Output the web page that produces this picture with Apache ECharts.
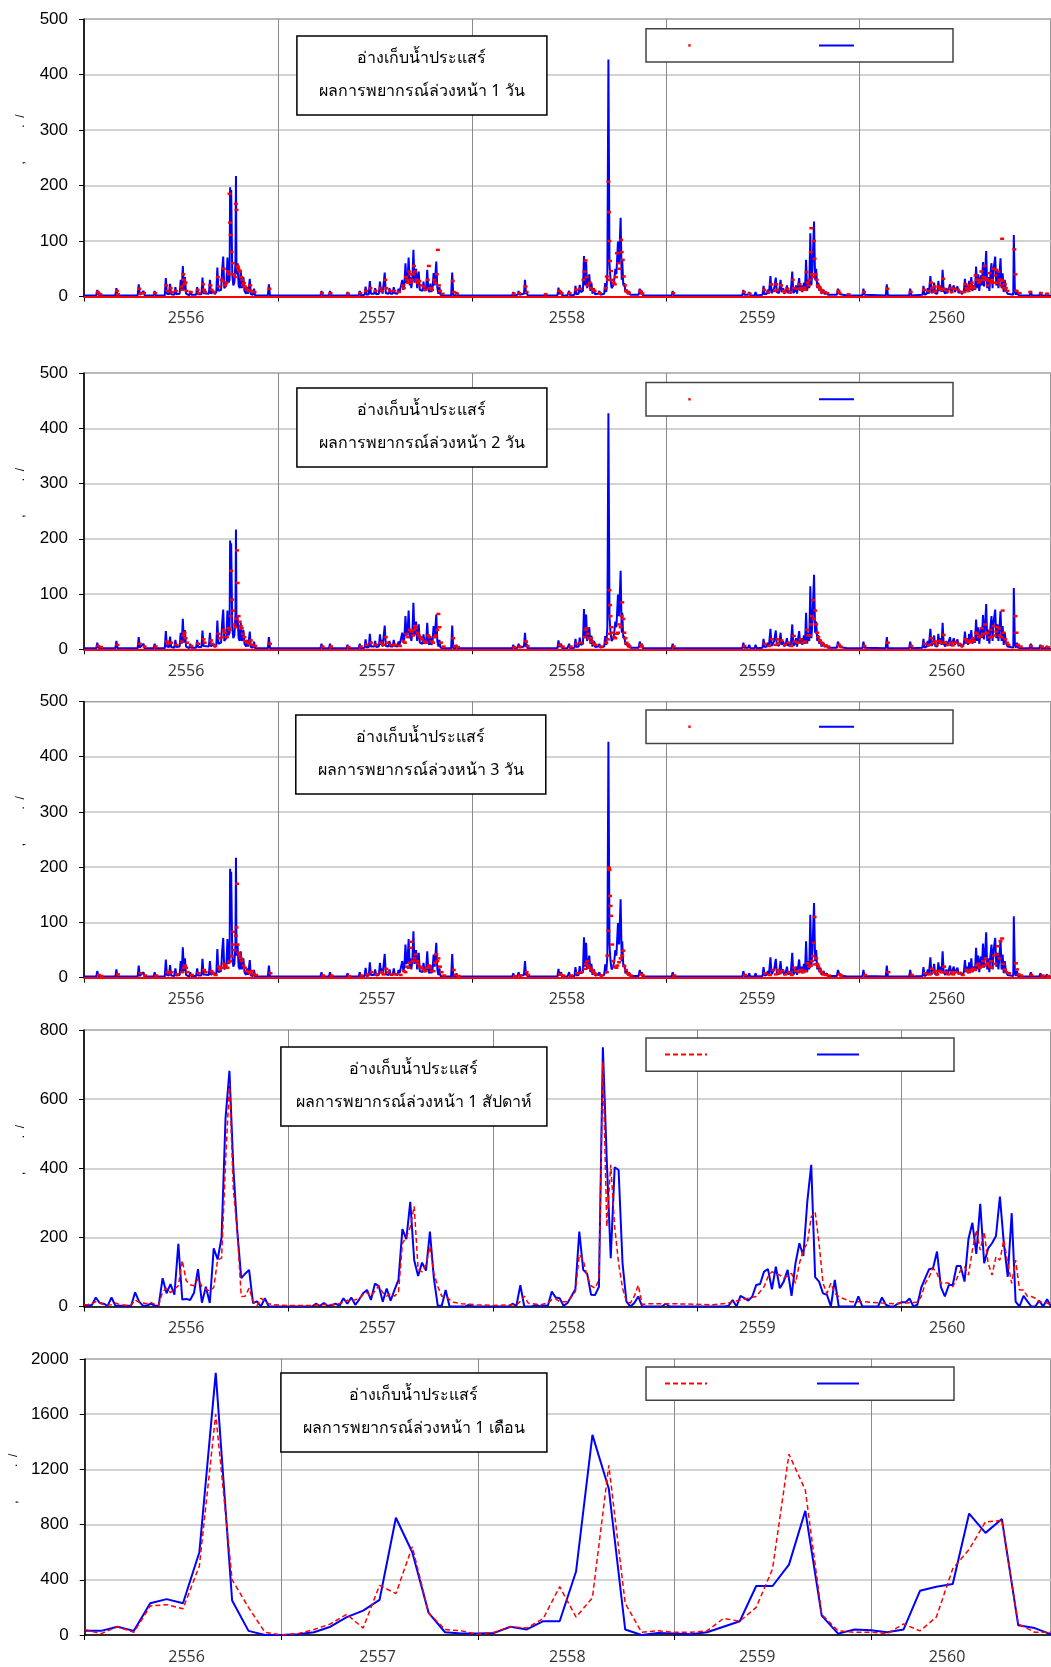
<!DOCTYPE html>
<html>
<head>
<meta charset="utf-8">
<script src="https://cdn.jsdelivr.net/npm/echarts@6/dist/echarts.min.js"></script>
<style>
html,body{margin:0;padding:0;background:#fff;}
#chart{width:1051px;height:1667px;}
</style>
</head>
<body>
<div id="chart"></div>
<script>
// ---------------- tick labels / texts ----------------
const yearLabels = ['2556', '2557', '2558', '2559', '2560'];
const reservoirName = 'อ่างเก็บน้ำประแสร์';
const panelTitles = [
  'ผลการพยากรณ์ล่วงหน้า 1 วัน',
  'ผลการพยากรณ์ล่วงหน้า 2 วัน',
  'ผลการพยากรณ์ล่วงหน้า 3 วัน',
  'ผลการพยากรณ์ล่วงหน้า 1 สัปดาห์',
  'ผลการพยากรณ์ล่วงหน้า 1 เดือน'
];
const yAxisTitle = '           ,          .  /';

// ---------------- daily observed inflow [day, value] ----------------
const obsDaily = [
[0,2],[23,2],[25,12],[27,3],[30,6],[33,2],[59,2],[61,15],[63,2],[101,2],[103,22],[105,3],[112,10],[114,2],[131,2],[133,10],[135,2],
[152,2],[154,33],[156,5],[160,4],[162,23],[164,4],[170,3],[172,17],[174,4],[180,5],[182,30],[184,10],[186,55],[188,12],[190,35],[192,5],
[198,2],[200,10],[202,3],[211,3],[213,17],[215,4],[221,4],[223,34],[225,6],[235,5],[237,30],[239,5],[244,10],[246,4],[249,8],[251,52],
[253,10],[258,12],[260,48],[262,72],[264,15],[268,20],[270,70],[272,25],[274,30],[275,197],[276,150],[277,192],[279,40],[281,20],[283,25],
[285,60],[286,217],[287,40],[289,60],[291,20],[293,15],[295,48],[297,15],[300,35],[302,10],[305,5],[307,17],[309,5],[312,32],[314,4],
[318,3],[320,14],[322,2],[346,2],[348,22],[350,2],
[445,2],[447,10],[449,2],[461,2],[463,10],[465,2],[494,2],[496,8],[498,2],[517,2],[519,10],[521,2],[528,3],[530,18],[532,3],[536,4],
[538,28],[540,5],[546,5],[548,15],[550,4],[555,5],[557,27],[559,8],[560,17],[562,5],[564,6],[566,43],[568,6],[573,5],[575,15],[577,5],
[581,5],[583,17],[585,6],[590,5],[592,14],[594,8],[597,10],[599,30],[601,12],[603,20],[605,60],[607,25],[609,30],[611,70],[613,20],
[614,35],[616,15],[618,30],[620,84],[622,25],[625,50],[627,15],[630,45],[632,12],[637,10],[639,27],[641,10],[644,15],[646,48],[648,12],
[650,8],[652,23],[654,8],[656,15],[658,42],[660,20],[663,63],[665,15],[667,5],[669,17],[671,3],[674,5],[676,2],[691,2],[693,43],[695,2],
[699,2],[701,8],[703,2],[734,2],[736,5],[738,2],
[806,2],[808,8],[810,2],[816,3],[818,10],[820,3],[828,5],[830,30],[832,4],[833,10],[835,2],[866,2],[868,5],[870,2],[891,2],[893,16],
[895,4],[898,10],[900,2],[910,2],[913,10],[915,2],[923,3],[925,19],[927,4],[931,5],[933,21],[935,8],[939,10],[941,73],[943,20],[945,63],
[947,15],[951,40],[953,10],[955,25],[957,5],[960,15],[962,4],[968,5],[970,10],[972,3],[979,5],[981,24],[983,8],[985,40],[987,427],
[989,60],[991,30],[993,15],[996,20],[998,30],[1000,50],[1002,40],[1005,99],[1007,60],[1010,142],[1012,30],[1013,66],[1015,20],[1017,24],
[1019,8],[1022,12],[1024,4],[1026,10],[1028,3],[1044,3],[1046,14],[1048,5],[1050,10],[1052,2],
[1106,2],[1108,10],[1110,2],[1216,2],[1218,5],[1220,2],[1239,2],[1241,12],[1243,3],[1250,3],[1252,8],[1254,2],[1262,2],[1264,8],[1266,2],
[1277,3],[1279,19],[1281,4],[1285,5],[1287,12],[1289,5],[1292,37],[1294,6],[1297,8],[1299,15],[1302,34],[1304,8],[1306,10],[1308,6],
[1311,30],[1313,8],[1316,15],[1318,5],[1321,10],[1323,20],[1325,6],[1328,10],[1330,5],[1333,45],[1335,6],[1338,10],[1340,20],[1342,5],
[1346,33],[1348,10],[1350,20],[1352,8],[1355,25],[1357,10],[1359,66],[1361,10],[1363,30],[1365,15],[1367,114],[1369,20],[1371,50],
[1374,135],[1376,30],[1378,50],[1380,15],[1382,25],[1384,10],[1386,18],[1388,5],[1392,12],[1394,4],[1398,8],[1400,3],[1417,3],[1419,14],
[1421,8],[1423,4],[1436,2],[1438,5],[1440,2],
[1465,2],[1467,14],[1469,3],[1509,2],[1511,22],[1513,2],[1553,2],[1555,14],[1557,2],[1578,3],[1580,19],[1582,3],[1586,5],[1588,15],
[1590,5],[1593,37],[1595,6],[1598,10],[1600,25],[1602,6],[1606,5],[1608,28],[1610,10],[1612,20],[1614,8],[1616,48],[1618,10],[1621,5],
[1623,15],[1625,6],[1628,5],[1630,22],[1632,6],[1635,4],[1637,20],[1639,8],[1642,5],[1644,18],[1646,6],[1650,10],[1652,4],[1656,10],
[1658,32],[1660,10],[1662,20],[1664,8],[1666,28],[1668,12],[1670,35],[1672,10],[1675,20],[1677,12],[1679,54],[1681,15],[1683,40],
[1685,10],[1688,38],[1690,20],[1692,62],[1694,18],[1696,45],[1698,82],[1700,15],[1702,35],[1704,10],[1706,40],[1708,60],[1710,15],
[1712,50],[1715,72],[1717,20],[1719,45],[1721,15],[1723,40],[1725,69],[1727,15],[1729,42],[1731,8],[1733,30],[1735,12],[1738,5],
[1749,3],[1750,111],[1752,10],[1754,3],[1756,12],[1758,3],[1762,2],[1764,5],[1766,2],[1780,2],[1782,10],[1784,2],[1798,2],[1800,8],
[1802,2],[1810,2],[1812,6],[1814,2],[1820,1]
];

// ---------------- 1-day-ahead forecast [day, value] ----------------
const fc1Daily = [
[26,8],[28,5],[31,4],[62,10],[64,4],[104,14],[106,5],[113,6],[134,6],[155,20],[157,10],[163,15],[165,8],[173,10],[183,18],[185,12],
[187,40],[188,30],[189,22],[191,25],[193,10],[201,8],[214,12],[216,6],[224,22],[226,12],[228,8],[238,20],[240,12],[245,8],[252,35],
[254,18],[259,30],[261,28],[263,50],[265,20],[268,25],[271,45],[273,40],[274,185],[275,133],[276,111],[278,80],[280,60],[282,40],
[284,35],[286,167],[287,156],[289,55],[290,52],[291,48],[293,45],[296,35],[298,30],[299,20],[301,24],[303,18],[306,14],[308,12],
[310,10],[313,20],[315,10],[321,8],[349,14],
[448,6],[464,6],[497,5],[520,6],[531,10],[539,15],[549,10],[558,15],[561,10],[567,30],[569,15],[576,10],[584,10],[593,8],[600,20],
[602,15],[606,35],[608,30],[610,25],[612,45],[614,40],[615,25],[617,30],[619,40],[621,55],[623,45],[626,30],[628,25],[631,28],[633,20],
[640,18],[642,12],[647,30],[649,55],[651,15],[653,15],[655,12],[659,30],[661,25],[664,40],[666,84],[668,20],[670,10],[675,5],[694,28],
[696,8],[702,5],
[809,5],[819,6],[831,18],[833,8],[869,4],[894,10],[899,6],[914,6],[926,12],[934,14],[940,30],[942,45],[944,65],[946,35],[948,20],
[952,25],[954,15],[958,12],[961,10],[971,6],[982,15],[984,36],[986,30],[987,207],[988,152],[989,100],[990,64],[992,46],[994,30],
[997,25],[999,22],[1001,35],[1003,78],[1006,60],[1008,50],[1011,102],[1012,80],[1014,66],[1016,36],[1018,20],[1020,10],[1023,8],
[1025,6],[1047,10],[1049,6],[1051,5],
[1109,6],[1242,8],[1253,5],[1280,12],[1288,8],[1293,22],[1300,10],[1303,22],[1305,12],[1312,20],[1317,10],[1319,8],[1324,14],
[1329,8],[1334,30],[1336,15],[1341,14],[1347,22],[1349,15],[1351,12],[1356,16],[1358,12],[1360,44],[1362,25],[1364,20],[1366,30],
[1368,80],[1369,123],[1370,40],[1372,35],[1374,100],[1375,68],[1377,40],[1379,30],[1381,20],[1383,18],[1385,15],[1387,12],[1389,8],
[1393,8],[1399,6],[1420,10],[1422,6],[1439,4],
[1468,8],[1512,14],[1556,8],[1581,12],[1589,10],[1594,25],[1596,15],[1599,8],[1601,18],[1603,10],[1609,18],[1611,14],[1613,12],
[1617,32],[1619,14],[1624,10],[1631,15],[1633,8],[1638,14],[1645,12],[1651,8],[1657,8],[1659,22],[1661,15],[1663,14],[1665,10],
[1667,20],[1669,15],[1671,25],[1673,18],[1676,15],[1678,38],[1680,30],[1682,30],[1684,25],[1687,28],[1689,45],[1691,30],[1693,35],
[1695,55],[1697,30],[1699,32],[1701,20],[1703,28],[1705,42],[1707,25],[1709,30],[1711,50],[1713,25],[1715,38],[1717,48],[1719,25],
[1721,45],[1723,30],[1725,20],[1727,30],[1728,104],[1729,28],[1731,15],[1733,22],[1735,15],[1738,10],[1751,85],[1753,40],[1755,10],
[1761,6],[1781,8],[1801,6],[1813,5]
];

// ---------------- 2-day-ahead forecast [day, value] ----------------
const fc2Daily = [
[27,6],[32,4],[63,8],[105,10],[114,5],[135,5],[156,14],[158,10],[164,12],[174,8],[184,14],[187,25],[189,30],[191,20],[194,12],[202,6],
[215,10],[225,18],[227,12],[239,16],[241,10],[247,6],[253,28],[255,20],[261,22],[263,35],[265,30],[269,22],[272,38],[274,35],[276,60],
[277,142],[279,90],[281,70],[283,45],[285,40],[287,55],[288,179],[289,120],[291,60],[293,50],[295,42],[297,38],[299,28],[302,22],
[304,15],[308,12],[311,10],[314,16],[317,8],[322,6],[350,10],
[449,5],[465,5],[498,4],[521,5],[532,8],[540,12],[550,8],[559,12],[563,8],[568,22],[571,12],[578,8],[586,8],[595,6],[601,15],[604,12],
[607,28],[610,22],[613,35],[616,32],[619,25],[621,35],[623,42],[625,38],[628,30],[630,25],[633,22],[636,18],[641,14],[644,12],[648,25],
[650,22],[654,14],[657,12],[660,22],[662,25],[665,35],[667,64],[669,40],[672,12],[677,5],[695,20],[698,6],[704,4],
[810,4],[820,5],[832,14],[835,6],[895,8],[901,5],[916,5],[927,10],[935,12],[942,22],[944,35],[946,38],[948,28],[950,20],[954,20],
[956,14],[960,10],[963,8],[973,5],[983,12],[986,18],[988,28],[989,107],[990,80],[991,60],[993,40],[995,30],[998,22],[1000,20],
[1003,28],[1005,30],[1008,45],[1010,40],[1012,60],[1013,85],[1015,55],[1017,30],[1019,20],[1021,12],[1024,8],[1027,5],[1048,8],[1050,5],
[1110,5],[1243,6],[1281,10],[1290,6],[1295,18],[1301,8],[1305,18],[1307,10],[1313,16],[1319,8],[1326,12],[1331,6],[1336,24],[1338,14],
[1343,12],[1349,18],[1352,12],[1357,14],[1361,35],[1363,25],[1366,25],[1368,45],[1370,60],[1372,89],[1374,55],[1376,70],[1378,45],
[1380,30],[1382,22],[1385,16],[1388,12],[1391,8],[1395,7],[1401,5],[1421,8],[1424,5],
[1469,6],[1513,12],[1557,6],[1582,10],[1591,8],[1595,20],[1598,12],[1602,14],[1605,8],[1610,15],[1613,12],[1618,26],[1621,12],
[1626,8],[1632,12],[1635,7],[1640,12],[1647,10],[1653,6],[1660,18],[1662,14],[1665,12],[1668,16],[1670,14],[1673,20],[1675,15],
[1679,30],[1681,28],[1684,22],[1688,24],[1690,38],[1692,28],[1696,45],[1698,28],[1700,30],[1704,22],[1706,35],[1708,22],[1712,42],
[1714,25],[1717,32],[1719,40],[1722,38],[1724,25],[1727,22],[1729,70],[1731,30],[1734,18],[1737,12],[1740,8],[1753,60],[1755,30],
[1758,8],[1763,5],[1782,6],[1803,5],[1814,4]
];

// ---------------- 3-day-ahead forecast [day, value] ----------------
const fc3Daily = [
[28,5],[33,3],[64,6],[106,8],[115,4],[136,4],[157,10],[160,8],[165,10],[175,6],[185,10],[188,18],[190,22],[192,18],[195,10],[203,5],
[216,8],[226,14],[229,10],[240,12],[242,8],[248,5],[254,20],[256,15],[262,18],[264,25],[266,22],[270,18],[273,28],[275,30],[278,39],
[280,60],[281,83],[283,50],[286,76],[287,91],[288,170],[289,60],[291,45],[293,40],[295,35],[297,30],[300,22],[303,18],[306,12],
[310,10],[313,8],[316,12],[319,6],[324,5],[351,8],
[450,4],[466,4],[499,3],[522,4],[533,6],[541,10],[551,6],[560,10],[564,6],[569,16],[572,10],[579,6],[587,6],[596,5],[602,12],[605,10],
[608,20],[611,18],[613,27],[615,54],[617,65],[619,30],[622,35],[624,42],[627,30],[629,25],[632,20],[635,18],[639,14],[642,12],[645,18],
[649,22],[651,18],[655,12],[658,12],[661,27],[663,42],[665,30],[667,35],[670,20],[673,10],[678,4],[696,14],[699,5],[705,3],
[811,3],[821,4],[833,10],[836,5],[896,6],[902,4],[917,4],[928,8],[936,10],[943,16],[945,25],[947,30],[949,22],[951,18],[955,15],
[958,10],[961,8],[964,6],[974,4],[984,10],[985,40],[987,85],[988,199],[989,195],[990,148],[991,130],[992,112],[994,60],[996,30],
[999,20],[1002,18],[1004,22],[1007,28],[1010,35],[1013,40],[1015,49],[1017,21],[1020,14],[1023,8],[1026,6],[1029,4],[1049,6],[1052,4],
[1111,4],[1244,5],[1282,8],[1291,5],[1296,14],[1302,6],[1306,14],[1309,8],[1314,12],[1320,6],[1327,10],[1332,5],[1337,18],[1340,12],
[1345,10],[1350,14],[1354,10],[1358,12],[1362,26],[1365,20],[1368,22],[1370,30],[1372,39],[1374,63],[1375,110],[1376,24],[1378,35],
[1380,25],[1382,20],[1385,14],[1388,10],[1392,6],[1396,5],[1402,4],[1422,6],[1425,4],
[1470,5],[1514,10],[1558,5],[1583,8],[1592,6],[1596,16],[1599,10],[1603,12],[1606,6],[1611,12],[1614,10],[1619,20],[1622,10],
[1627,6],[1633,10],[1636,6],[1641,10],[1648,8],[1654,5],[1661,14],[1663,12],[1666,10],[1669,14],[1671,12],[1674,16],[1677,14],
[1680,22],[1683,25],[1686,18],[1689,20],[1692,30],[1694,22],[1697,35],[1699,24],[1701,26],[1705,20],[1707,30],[1709,18],[1713,40],
[1715,25],[1718,42],[1720,57],[1723,35],[1725,66],[1728,71],[1730,25],[1733,15],[1736,10],[1741,8],[1754,26],[1756,15],[1759,6],
[1764,4],[1783,5],[1804,4],[1815,3]
];

// ---------------- weekly [week, value] ----------------
const obsWeekly = [
[0,5],[1,3],[2,4],[3,26],[4,10],[5,8],[6,2],[7,26],[8,2],[12,2],[13,41],[14,15],[15,2],[16,3],[17,8],[18,2],[19,3],[20,82],[21,38],
[22,65],[23,34],[24,181],[25,20],[26,22],[27,19],[28,40],[29,108],[30,11],[31,57],[32,10],[33,168],[34,136],[35,200],[36,544],
[37,682],[38,400],[39,217],[40,82],[41,95],[42,106],[43,10],[44,15],[45,0],[46,24],[47,0],[58,0],[59,8],[60,2],[61,10],[62,2],[63,4],
[64,8],[65,2],[66,24],[67,8],[68,26],[69,5],[70,20],[71,38],[72,48],[73,19],[74,66],[75,59],[76,14],[77,52],[78,17],[79,48],[80,77],
[81,224],[82,195],[83,303],[84,134],[85,88],[86,127],[87,104],[88,217],[89,82],[90,2],[91,2],[92,48],[93,0],[97,0],[98,5],[99,0],
[108,0],[109,8],[110,2],[111,62],[112,0],[114,0],[115,5],[116,0],[117,3],[118,2],[119,43],[120,26],[121,24],[122,2],[123,10],[124,30],
[125,50],[126,217],[127,106],[128,95],[129,34],[130,33],[131,57],[132,750],[133,420],[134,140],[135,403],[136,395],[137,125],[138,14],
[139,0],[140,10],[141,29],[142,0],[147,0],[148,8],[149,0],[163,0],[164,2],[165,19],[166,0],[167,31],[168,24],[169,17],[170,29],
[171,62],[172,65],[173,101],[174,108],[175,50],[176,115],[177,53],[178,72],[179,106],[180,31],[181,125],[182,183],[183,146],[184,303],
[185,410],[186,85],[187,72],[188,38],[189,34],[190,0],[191,77],[192,0],[196,0],[197,29],[198,0],[202,0],[203,26],[204,5],[205,0],
[206,0],[207,8],[208,12],[209,12],[210,23],[211,0],[212,5],[213,55],[214,82],[215,108],[216,111],[217,159],[218,56],[219,29],[220,62],
[221,62],[222,117],[223,117],[224,72],[225,195],[226,242],[227,152],[228,297],[229,125],[230,168],[231,183],[232,204],[233,318],
[234,183],[235,86],[236,270],[237,14],[238,0],[239,31],[240,15],[241,0],[242,0],[243,17],[244,0],[245,21],[246,0]
];
const fcWeekly = [
[0,5],[1,6],[2,8],[3,14],[4,10],[5,6],[6,4],[7,5],[8,10],[9,6],[10,4],[11,3],[12,4],[13,19],[14,12],[15,10],[16,8],[17,12],[18,6],
[19,4],[20,43],[21,53],[22,40],[23,50],[24,60],[25,133],[26,75],[27,63],[28,60],[29,80],[30,58],[31,50],[32,45],[33,55],[34,135],
[35,140],[36,414],[37,646],[38,337],[39,217],[40,29],[41,30],[42,53],[43,15],[44,2],[45,24],[46,15],[47,8],[48,5],[52,3],[58,3],
[60,5],[62,6],[64,5],[66,12],[67,18],[68,14],[69,20],[70,22],[71,35],[72,40],[73,30],[74,45],[75,60],[76,40],[77,30],[78,38],[79,30],
[80,40],[81,183],[82,200],[83,230],[84,290],[85,107],[86,100],[87,120],[88,174],[89,97],[90,58],[91,30],[92,30],[93,20],[94,12],
[96,8],[100,5],[104,3],[110,5],[111,15],[112,30],[113,10],[116,5],[118,10],[119,20],[120,22],[121,14],[123,14],[125,43],[126,150],
[127,135],[128,86],[129,60],[130,53],[131,77],[132,708],[133,231],[134,410],[135,231],[136,125],[137,53],[138,14],[139,10],[140,30],
[141,62],[142,5],[143,8],[150,8],[160,5],[164,10],[165,14],[167,19],[169,24],[171,29],[173,57],[174,86],[175,101],[176,95],[177,91],
[178,82],[179,88],[180,96],[181,67],[182,125],[183,163],[184,183],[185,259],[186,274],[187,183],[188,67],[189,38],[190,67],[191,38],
[192,29],[193,24],[194,19],[195,14],[198,14],[203,10],[206,8],[209,10],[212,12],[213,29],[214,67],[215,86],[216,111],[217,96],
[218,67],[219,69],[220,67],[221,57],[222,80],[223,105],[224,115],[225,91],[226,163],[227,221],[228,163],[229,216],[230,125],[231,91],
[232,144],[233,134],[234,193],[235,125],[236,67],[237,134],[238,48],[239,48],[240,29],[241,29],[242,24],[243,14],[244,12],[245,10],
[246,5]
];

// ---------------- monthly (60 months) ----------------
const obsMonthly = [30,30,60,30,230,260,230,600,1900,250, 30,0,0,5,20,60,130,177,254,850,
  600,160,20,10,10,15,60,40,100,100, 460,1450,1060,40,0,15,10,5,20,60,
  100,355,355,510,900,140,10,40,35,20, 40,320,350,370,880,740,840,70,50,5];
const fcMonthly = [40,10,60,20,210,220,190,500,1600,400, 200,20,0,10,40,80,150,50,360,300,
  640,160,40,30,5,20,60,50,120,350, 130,270,1230,230,20,30,20,20,30,120,
  100,200,480,1310,1050,150,30,20,20,10, 80,30,130,480,620,820,830,80,20,20];

// ---------------- layout constants ----------------
const FONT_TH = 'Tahoma, "Noto Sans", "DejaVu Sans", sans-serif';
const grids = [
  {top: 19, height: 277.5},
  {top: 373, height: 276.3},
  {top: 701.5, height: 276.2},
  {top: 1030, height: 276.5},
  {top: 1359, height: 276}
];
const yMax = [500, 500, 500, 800, 2000];
const yStep = [100, 100, 100, 200, 400];
const xCfg = [
  {max: 1820, interval: 365, labels: [192, 551.5, 909, 1267, 1624]},
  {max: 1820, interval: 365, labels: [192, 551.5, 909, 1267, 1624]},
  {max: 1820, interval: 365, labels: [192, 551.5, 909, 1267, 1624]},
  {max: 246, interval: 52, labels: [26, 74.6, 122.9, 171.3, 219.6]},
  {max: 59, interval: 12, labels: [6.22, 17.88, 29.47, 41.06, 52.65]}
];
const titleBox = [
  {cx: 421.9, top: 36, w: 251},
  {cx: 421.9, top: 388, w: 251},
  {cx: 420.8, top: 715, w: 251},
  {cx: 413.9, top: 1047, w: 267},
  {cx: 413.9, top: 1373, w: 267}
];
const legendTop = [28.7, 382.6, 710, 1038, 1367];

const fcNames = ['fc1d', 'fc2d', 'fc3d', 'fc1w', 'fc1m'];
const obsNames = ['obs1', 'obs2', 'obs3', 'obsW', 'obsM'];

const chart = echarts.init(document.getElementById('chart'), null, {renderer: 'canvas'});

const gridOpt = grids.map(g => ({left: 84, right: 0, top: g.top, height: g.height,
  show: true, borderColor: '#333', borderWidth: 1, containLabel: false}));

const xAxes = xCfg.map((c, i) => ({
  type: 'value', gridIndex: i, min: 0, max: c.max, interval: c.interval,
  axisLine: {show: true, onZero: false, lineStyle: {color: '#000', width: 1.5}},
  axisTick: {show: true, length: 5, lineStyle: {color: '#000', width: 1}},
  splitLine: {show: true, lineStyle: {color: '#8a8a8a', width: 1}},
  axisLabel: {
    customValues: c.labels,
    formatter: v => { const k = c.labels.indexOf(v); return k >= 0 ? yearLabels[k] : ''; },
    color: '#333', fontSize: 16, fontFamily: '"Open Sans", "DejaVu Sans", sans-serif', margin: 14
  }
}));

const yAxes = yMax.map((m, i) => ({
  type: 'value', gridIndex: i, min: 0, max: m, interval: yStep[i],
  axisLine: {show: true, lineStyle: {color: '#000', width: 1.5}},
  axisTick: {show: true, length: 5, lineStyle: {color: '#000'}},
  splitLine: {show: true, lineStyle: {color: '#c4c4c4', width: 1.5}},
  axisLabel: {color: '#000', fontSize: 17, fontFamily: '"Liberation Sans", Arial, sans-serif', margin: 16,
    formatter: v => String(v)},
  name: yAxisTitle, nameLocation: 'middle', nameRotate: 90, nameGap: 57,
  nameTextStyle: {color: '#000', fontSize: 12, fontFamily: '"Liberation Sans", Arial, sans-serif'}
}));

const dailyFc = [fc1Daily, fc2Daily, fc3Daily];
const series = [];
for (let i = 0; i < 3; i++) {
  series.push({
    name: obsNames[i], type: 'line', xAxisIndex: i, yAxisIndex: i, data: obsDaily,
    symbol: 'none', showSymbol: false, lineStyle: {color: '#0000ff', width: 2}, itemStyle: {color: '#0000ff'},
    z: 2, silent: true
  });
  series.push({
    name: fcNames[i], type: 'line', xAxisIndex: i, yAxisIndex: i, data: dailyFc[i],
    symbol: 'rect', symbolSize: [4, 2.5], showSymbol: true, showAllSymbol: true,
    lineStyle: {opacity: 0, width: 0, color: '#ff0000'}, itemStyle: {color: '#ff0000'},
    z: 3, silent: true,
    markLine: {silent: true, symbol: 'none', label: {show: false}, animation: false,
      lineStyle: {color: '#ff0000', width: 2, type: 'solid'}, data: [{yAxis: 0}]}
  });
}
series.push({
  name: obsNames[3], type: 'line', xAxisIndex: 3, yAxisIndex: 3, data: obsWeekly,
  symbol: 'none', lineStyle: {color: '#0000ff', width: 2}, itemStyle: {color: '#0000ff'}, z: 2, silent: true
});
series.push({
  name: fcNames[3], type: 'line', xAxisIndex: 3, yAxisIndex: 3, data: fcWeekly,
  symbol: 'none', lineStyle: {color: '#ff0000', width: 1.5, type: [5, 3]}, itemStyle: {color: '#ff0000'}, z: 3, silent: true
});
series.push({
  name: obsNames[4], type: 'line', xAxisIndex: 4, yAxisIndex: 4, data: obsMonthly.map((v, i) => [i, v]),
  symbol: 'none', lineStyle: {color: '#0000ff', width: 2}, itemStyle: {color: '#0000ff'}, z: 2, silent: true
});
series.push({
  name: fcNames[4], type: 'line', xAxisIndex: 4, yAxisIndex: 4, data: fcMonthly.map((v, i) => [i, v]),
  symbol: 'none', lineStyle: {color: '#ff0000', width: 1.5, type: [5, 3]}, itemStyle: {color: '#ff0000'}, z: 3, silent: true
});

const legends = legendTop.map((t, i) => {
  const daily = i < 3;
  const hideSym = {opacity: 0};
  return {
    data: daily
      ? [{name: fcNames[i]}, {name: obsNames[i], itemStyle: hideSym}]
      : [{name: fcNames[i], itemStyle: hideSym}, {name: obsNames[i], itemStyle: hideSym}],
    left: 646, top: t, orient: 'horizontal',
    itemWidth: daily ? 35 : 42, itemHeight: daily ? 3 : 4, itemGap: daily ? 106 : 104,
    padding: daily ? [15.5, 94, 15.5, 26] : [15, 90, 15, 18],
    borderColor: '#444', borderWidth: 1.5, backgroundColor: '#fff',
    formatter: () => '', selectedMode: false,
    textStyle: {fontSize: 2, lineHeight: 2}
  };
});

const titles = titleBox.map((b, i) => ({
  text: reservoirName + '\n' + panelTitles[i],
  left: b.cx, top: b.top, textAlign: 'center',
  borderColor: '#000', borderWidth: 1.5, backgroundColor: '#fff', padding: [6, 0, 7, 0],
  textStyle: {fontSize: 16, fontWeight: 'normal', color: '#000', lineHeight: 33, width: b.w, align: 'center', fontFamily: FONT_TH}
}));

chart.setOption({
  animation: false,
  backgroundColor: '#fff',
  title: titles,
  legend: legends,
  grid: gridOpt,
  xAxis: xAxes,
  yAxis: yAxes,
  series: series
});
</script>
</body>
</html>
